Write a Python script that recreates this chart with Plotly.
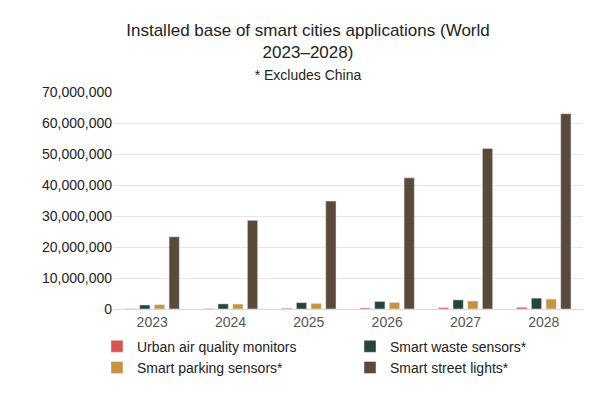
import plotly.graph_objects as go

years = ["2023", "2024", "2025", "2026", "2027", "2028"]
air_quality = [100000, 150000, 250000, 350000, 450000, 550000]
waste = [1300000, 1650000, 2050000, 2450000, 2950000, 3500000]
parking = [1400000, 1600000, 1800000, 2100000, 2600000, 3200000]
street_lights = [23300000, 28600000, 34800000, 42300000, 51800000, 63000000]

series = [
    ("Urban air quality monitors", air_quality, "#d9534f"),
    ("Smart waste sensors*", waste, "#25443b"),
    ("Smart parking sensors*", parking, "#c8923e"),
    ("Smart street lights*", street_lights, "#5a4a3a"),
]

fig = go.Figure()
for name, vals, color in series:
    fig.add_trace(go.Bar(x=years, y=vals, name=name, marker_color=color))

fig.update_layout(
    width=600,
    height=400,
    font=dict(family="Liberation Sans, Arial", size=14, color="#222"),
    title=dict(
        text="Installed base of smart cities applications (World<br>2023–2028)"
        "<br><span style='font-size:14px'>* Excludes China</span>",
        x=0.5,
        xanchor="center",
        y=0.93,
        yanchor="top",
        font=dict(size=17),
    ),
    barmode="group",
    bargap=0.25,
    bargroupgap=0.3,
    plot_bgcolor="white",
    paper_bgcolor="white",
    margin=dict(l=105, r=25, t=84, b=99),
    legend=dict(
        orientation="h",
        x=-0.02,
        y=-0.1,
        xanchor="left",
        yanchor="top",
        traceorder="normal",
        entrywidthmode="fraction",
        entrywidth=0.44,
        font=dict(size=14),
        itemwidth=30,
        tracegroupgap=0,
    ),
    yaxis=dict(
        range=[0, 70000000],
        dtick=10000000,
        tickformat=",d",
        gridcolor="#e6e6e6",
        zeroline=False,
        showline=False,
    ),
    xaxis=dict(showline=True, linecolor="#d9d9d9", tickfont=dict(color="#555")),
)

fig.write_html("out.html")
